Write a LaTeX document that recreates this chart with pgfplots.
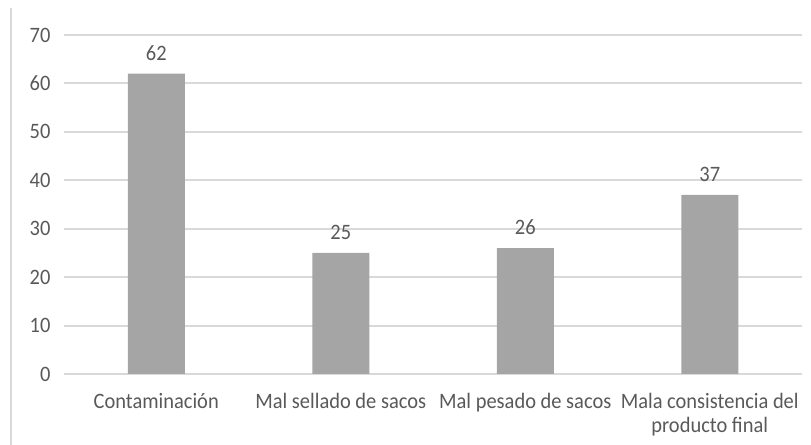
\documentclass[border=0pt]{standalone}
\usepackage{fontspec}
\setmainfont[FakeStretch=0.93]{Carlito}
\usepackage{pgfplots}
\pgfplotsset{compat=1.18}
\definecolor{barc}{HTML}{A5A5A5}
\definecolor{gridc}{HTML}{D9D9D9}
\definecolor{txt}{HTML}{595959}
\begin{document}
\begin{tikzpicture}
\path[use as bounding box] (0,0) rectangle (811bp,445bp);
\draw[gridc, line width=1.5bp] (11bp,0) -- (11bp,437bp);
\begin{axis}[
 at={(64bp,71bp)}, anchor=south west,
 scale only axis, width=738bp, height=339bp,
 xmin=-0.5, xmax=3.5, ymin=0, ymax=70,
 ytick={0,10,...,70},
 xtick={0,1,2,3},
 xticklabels={Contaminación, Mal sellado de sacos, Mal pesado de sacos, {Mala consistencia del\\producto final}},
 axis line style={draw=none},
 ymajorgrids, grid style={gridc, line width=2bp},
 major tick length=0pt,
 tick label style={font=\fontsize{22bp}{24bp}\selectfont, text=txt},
 yticklabel style={xshift=-10bp},
 xticklabel style={align=center, yshift=-16bp},
 /pgf/number format/assume math mode=true,
 ybar, bar width=57bp,
 nodes near coords,
 nodes near coords style={font=\fontsize{22bp}{24bp}\selectfont, text=txt, yshift=10bp},
]
\addplot[fill=barc, draw=none] coordinates {(0,62) (1,25) (2,26) (3,37)};
\end{axis}
\end{tikzpicture}
\end{document}
